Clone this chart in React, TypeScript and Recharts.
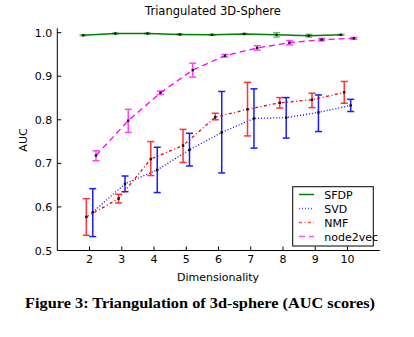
import React from 'react';
import { ComposedChart, Line, XAxis, YAxis, ErrorBar } from 'recharts';

const dims = [2, 3, 4, 5, 6, 7, 8, 9, 10];
const xTicks = [2, 3, 4, 5, 6, 7, 8, 9, 10];
const yTicks = [0.5, 0.6, 0.7, 0.8, 0.9, 1.0];

const sfdpMean = [0.994, 0.998, 0.998, 0.996, 0.995, 0.997, 0.995, 0.993, 0.995];
const sfdpLo = [0.993, 0.997, 0.997, 0.995, 0.994, 0.996, 0.990, 0.990, 0.994];
const sfdpHi = [0.995, 0.999, 0.999, 0.997, 0.996, 0.998, 1.000, 0.996, 0.996];

const svdMean = [0.588, 0.653, 0.685, 0.731, 0.771, 0.803, 0.805, 0.817, 0.833];
const svdLo = [0.532, 0.635, 0.633, 0.694, 0.678, 0.735, 0.758, 0.773, 0.819];
const svdHi = [0.642, 0.671, 0.737, 0.769, 0.865, 0.871, 0.851, 0.857, 0.847];

const nmfMean = [0.577, 0.619, 0.710, 0.741, 0.806, 0.824, 0.839, 0.846, 0.863];
const nmfLo = [0.535, 0.609, 0.672, 0.702, 0.800, 0.763, 0.827, 0.828, 0.838];
const nmfHi = [0.619, 0.629, 0.750, 0.778, 0.815, 0.886, 0.851, 0.861, 0.888];

const n2vMean = [0.718, 0.798, 0.862, 0.914, 0.947, 0.965, 0.977, 0.984, 0.987];
const n2vLo = [0.706, 0.771, 0.858, 0.898, 0.944, 0.960, 0.972, 0.981, 0.985];
const n2vHi = [0.729, 0.824, 0.866, 0.930, 0.950, 0.970, 0.982, 0.987, 0.989];

// horizontal jitter used in the original figure, per series
const seriesNames = ['SFDP', 'SVD', 'NMF', 'node2vec'];
const xOffsets = [-0.2, 0.1, -0.1, 0.2];

const build = (mean: number[], lo: number[], hi: number[], off: number) =>
  dims.map((d, i) => ({ x: d + off, y: mean[i], err: [mean[i] - lo[i], hi[i] - mean[i]] }));

const FONT = 'DejaVu Sans';

const series = [
  { name: seriesNames[0], data: build(sfdpMean, sfdpLo, sfdpHi, xOffsets[0]), color: '#008000', err: '#6fbf6f', dash: undefined, width: 1.5 },
  { name: seriesNames[1], data: build(svdMean, svdLo, svdHi, xOffsets[1]), color: '#0000ff', err: '#1a1aff', dash: '1 2', width: 1.3 },
  { name: seriesNames[2], data: build(nmfMean, nmfLo, nmfHi, xOffsets[2]), color: '#ff0000', err: '#ff3333', dash: '3 2.5 1 2.5', width: 1.3 },
  { name: seriesNames[3], data: build(n2vMean, n2vLo, n2vHi, xOffsets[3]), color: '#ff00ff', err: '#ff44ff', dash: '6 4', width: 1.3 },
];

const BottomTick = (p: any) => (
  <g>
    <line x1={p.x} x2={p.x} y1={p.y} y2={p.y - 4} stroke="#000" strokeWidth={1} />
    <text x={p.x} y={p.y + 12} textAnchor="middle" fontSize={11} fontFamily={FONT} fill="#000">{p.payload.value}</text>
  </g>
);
const TopTick = (p: any) => (
  <line x1={p.x} x2={p.x} y1={p.y} y2={p.y + 4} stroke="#000" strokeWidth={1} />
);
const LeftTick = (p: any) => (
  <g>
    <line x1={p.x} x2={p.x + 4} y1={p.y} y2={p.y} stroke="#000" strokeWidth={1} />
    <text x={p.x - 5} y={p.y + 4} textAnchor="end" fontSize={11} fontFamily={FONT} fill="#000">{Number(p.payload.value).toFixed(1)}</text>
  </g>
);
const RightTick = (p: any) => (
  <line x1={p.x} x2={p.x - 4} y1={p.y} y2={p.y} stroke="#000" strokeWidth={1} />
);

const Dot = (p: any) => (
  <rect x={p.cx - 1.2} y={p.cy - 1.2} width={2.4} height={2.4} fill="#111" />
);

export default function App() {
  return (
    <div style={{ position: 'absolute', left: 0, top: 0, width: 414, height: 337, background: '#fff' }}>
      <ComposedChart width={414} height={337} margin={{ top: 28.3, right: 34.3, bottom: 56.5, left: 12.3 }}>
        <XAxis dataKey="x" type="number" domain={[1, 11]} ticks={xTicks} allowDataOverflow
          tickSize={0} tickMargin={0} tickLine={false} axisLine={{ stroke: '#000' }} height={30} tick={<BottomTick />} interval={0} />
        <XAxis xAxisId="top" orientation="top" dataKey="x" type="number" domain={[1, 11]} ticks={xTicks} allowDataOverflow
          tickSize={0} tickMargin={0} tickLine={false} axisLine={{ stroke: '#000' }} height={0} tick={<TopTick />} interval={0} />
        <YAxis type="number" domain={[0.5, 1.01]} ticks={yTicks} allowDataOverflow
          tickSize={0} tickMargin={0} tickLine={false} axisLine={{ stroke: '#000' }} width={45} tick={<LeftTick />} interval={0} />
        <YAxis yAxisId="right" orientation="right" type="number" domain={[0.5, 1.01]} ticks={yTicks} allowDataOverflow
          tickSize={0} tickMargin={0} tickLine={false} axisLine={{ stroke: '#000' }} width={0} tick={<RightTick />} interval={0} />
        {series.map((s) => (
          <Line key={s.name} data={s.data} dataKey="y" name={s.name} type="linear" stroke={s.color}
            strokeWidth={s.width} strokeDasharray={s.dash} dot={<Dot />} activeDot={false} isAnimationActive={false}>
            <ErrorBar dataKey="err" direction="y" width={3.5} stroke={s.err} strokeWidth={1.5} isAnimationActive={false} />
          </Line>
        ))}
      </ComposedChart>
      <svg width={414} height={337} style={{ position: 'absolute', left: 0, top: 0, pointerEvents: 'none' }}>
        <text x={213} y={15} textAnchor="middle" fontSize={11.5} fontFamily={FONT} fill="#000">Triangulated 3D-Sphere</text>
        <text x={0} y={0} transform="translate(27,140) rotate(-90)" textAnchor="middle" fontSize={11} fontFamily={FONT} fill="#000">AUC</text>
        <text x={218} y={281} textAnchor="middle" fontSize={11} fontFamily={FONT} fill="#000">Dimensionality</text>
        <rect x={292.7} y={186.7} width={80.6} height={59.3} fill="#fff" stroke="#000" strokeWidth={1} />
        {series.map((s, i) => (
          <g key={s.name}>
            <line x1={299} x2={314} y1={194.5 + i * 14} y2={194.5 + i * 14} stroke={s.color} strokeWidth={s.width} strokeDasharray={s.dash} opacity={i === 0 ? 1 : 0.7} />
            <text x={324.3} y={198.5 + i * 14} fontSize={11} fontFamily={FONT} fill="#000">{s.name}</text>
          </g>
        ))}
        <text x={25} y={308} textLength={350} lengthAdjust="spacingAndGlyphs" fontSize={15.5} fontWeight="bold" fontFamily="Liberation Serif" fill="#000">Figure 3: Triangulation of 3d-sphere (AUC scores)</text>
      </svg>
    </div>
  );
}
